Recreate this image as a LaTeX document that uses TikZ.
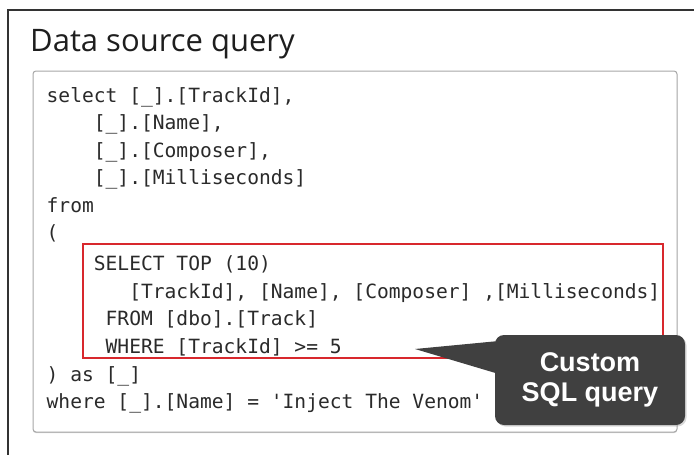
\documentclass[tikz,border=0pt]{standalone}
\usepackage{fontspec}
\setsansfont{Open Sans}
\setmonofont{DejaVu Sans Mono}
\newfontfamily\calloutfont{Liberation Sans}
\usetikzlibrary{shadows}
\definecolor{titleblack}{HTML}{1E1E1E}
\definecolor{codegray}{HTML}{2A2A2A}
\definecolor{boxgray}{HTML}{A6A6A6}
\definecolor{markred}{HTML}{D8282D}
\definecolor{calloutgray}{HTML}{404040}
\tikzstyle{frame}=[draw=black!80, line width=1.3pt]
\tikzstyle{heading}=[anchor=base west, inner sep=0, text=titleblack,
		font=\sffamily\fontsize{31}{34}\selectfont]
\tikzstyle{codebox}=[draw=boxgray, fill=white, line width=1pt, rounded corners=3pt,
		minimum width=644pt, minimum height=361pt, inner sep=0,
		drop shadow={opacity=0.35, shadow xshift=0pt, shadow yshift=-1.2pt}]
\tikzstyle{code}=[anchor=base west, inner sep=0, text=codegray,
		font=\ttfamily\fontsize{19.6}{22}\selectfont]
\tikzstyle{redbox}=[draw=markred, line width=2.4pt, minimum width=580pt,
		minimum height=114pt, inner sep=0]
\tikzstyle{callout}=[fill=calloutgray, rounded corners=9pt, minimum width=190pt,
		minimum height=90pt, inner sep=0, text=white, align=center,
		font=\calloutfont\bfseries\fontsize{27}{30}\selectfont,
		drop shadow={opacity=0.3, shadow xshift=1.5pt, shadow yshift=-1.5pt}]

\begin{document}
\begin{tikzpicture}[x=1pt, y=-1pt]
	\useasboundingbox (0,0) rectangle (694,455);
	% outer panel
	\draw[frame] (8,455) -- (8,10) -- (694,10);
	\node[heading] (title) at (30,51) {Data source query};
	\node[codebox] (box) at (355,251.5) {};
	% query text, one node per line
	\node[code] (l1) at (46.5,102) {select [\_].[TrackId],};
	\node[code] (l2) at (46.5+4*11.8,129.5) {[\_].[Name],};
	\node[code] (l3) at (46.5+4*11.8,157) {[\_].[Composer],};
	\node[code] (l4) at (46.5+4*11.8,184.5) {[\_].[Milliseconds]};
	\node[code] (l5) at (46.5,212) {from};
	\node[code] (l6) at (46.5,239.5) {(};
	\node[code] (l7) at (46.5+4*11.8,270) {SELECT TOP (10)};
	\node[code] (l8) at (46.5+7*11.8,298) {[TrackId], [Name], [Composer] ,[Milliseconds]};
	\node[code] (l9) at (46.5+5*11.8,325) {FROM [dbo].[Track]};
	\node[code] (l10) at (46.5+5*11.8,353) {WHERE [TrackId] >= 5};
	\node[code] (l11) at (46.5,381) {) as [\_]};
	\node[code] (l12) at (46.5,408) {where [\_].[Name] = 'Inject The Venom'};
	% highlighted sub query
	\node[redbox] (sub) at (373,301) {};
	% callout with its pointer
	\coordinate (tip) at (415,349);
	\node[callout] (note) at (590,380) {Custom\\SQL query};
	\fill[calloutgray] (tip) -- ([xshift=4pt,yshift=39pt]note.west)
		-- ([xshift=4pt,yshift=6pt]note.west) -- cycle;
\end{tikzpicture}
\end{document}
